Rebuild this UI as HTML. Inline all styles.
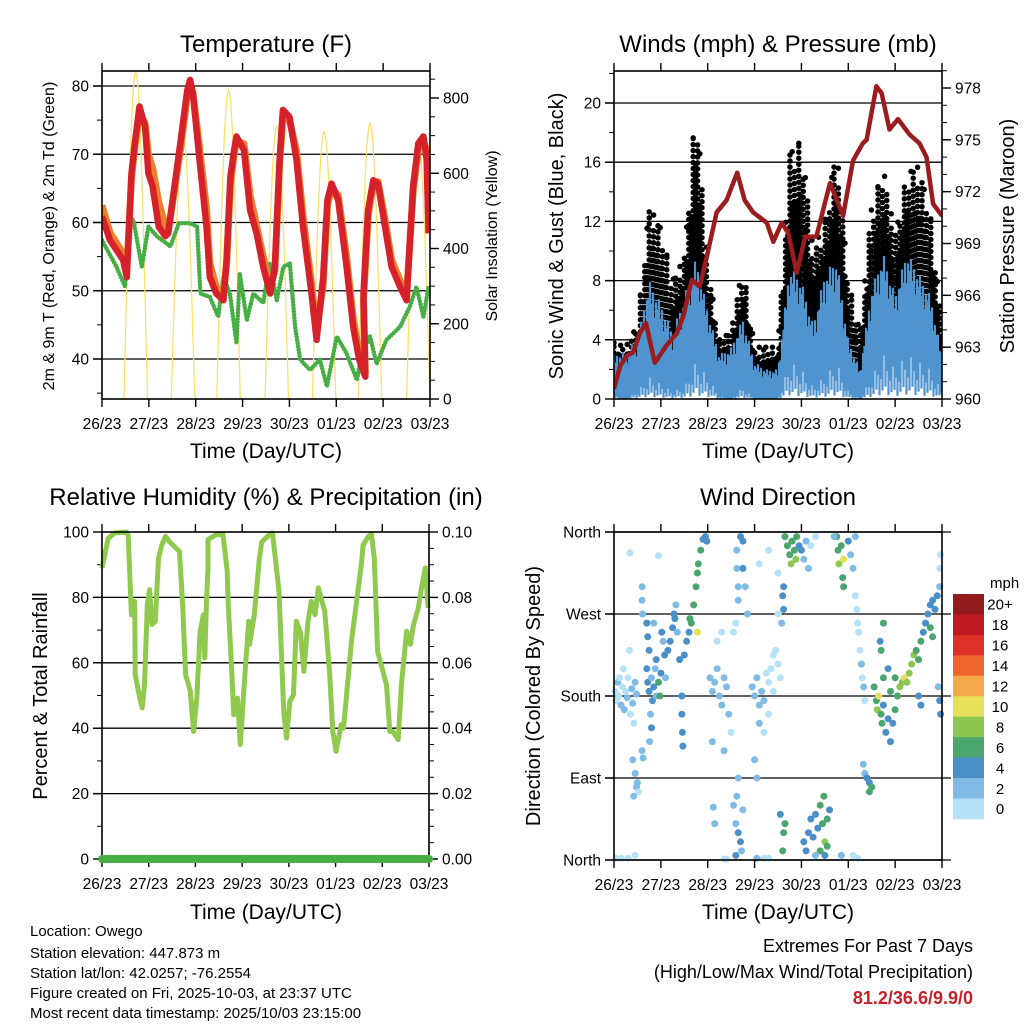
<!DOCTYPE html>
<html><head><meta charset="utf-8"><title>Owego Station Meteogram</title>
<style>
html,body{margin:0;padding:0;background:#fff;}
svg{display:block;font-family:"Liberation Sans",Arial,sans-serif;}
</style></head>
<body>
<svg id="chart" xmlns="http://www.w3.org/2000/svg" width="1024" height="1024" viewBox="0 0 1024 1024">
<rect x="0" y="0" width="1024" height="1024" fill="#fff"/>
<g id="layer"></g>
<text x="266" y="52" font-size="24" text-anchor="middle">Temperature (F)</text>
<text x="778" y="52" font-size="24" text-anchor="middle">Winds (mph) &amp; Pressure (mb)</text>
<text x="266" y="505" font-size="24" text-anchor="middle">Relative Humidity (%) &amp; Precipitation (in)</text>
<text x="778" y="505" font-size="24" text-anchor="middle">Wind Direction</text>
<text x="266" y="458" font-size="21" text-anchor="middle">Time (Day/UTC)</text>
<text x="778" y="458" font-size="21" text-anchor="middle">Time (Day/UTC)</text>
<text x="266" y="919" font-size="21" text-anchor="middle">Time (Day/UTC)</text>
<text x="778" y="919" font-size="21" text-anchor="middle">Time (Day/UTC)</text>
<text transform="translate(54,236) rotate(-90)" font-size="16" text-anchor="middle">2m &amp; 9m T (Red, Orange) &amp; 2m Td (Green)</text>
<text transform="translate(497,236) rotate(-90)" font-size="16" text-anchor="middle">Solar Insolation (Yellow)</text>
<text transform="translate(563,236) rotate(-90)" font-size="20" text-anchor="middle">Sonic Wind &amp; Gust (Blue, Black)</text>
<text transform="translate(1014,236) rotate(-90)" font-size="20" text-anchor="middle">Station Pressure (Maroon)</text>
<text transform="translate(47,696) rotate(-90)" font-size="20" text-anchor="middle">Percent &amp; Total Rainfall</text>
<text transform="translate(540,696) rotate(-90)" font-size="20" text-anchor="middle">Direction (Colored By Speed)</text>
<text x="990" y="588" font-size="15">mph</text>
<g font-size="15">
<text x="30" y="936">Location: Owego</text>
<text x="30" y="958">Station elevation: 447.873 m</text>
<text x="30" y="978">Station lat/lon: 42.0257; -76.2554</text>
<text x="30" y="998">Figure created on Fri, 2025-10-03, at 23:37 UTC</text>
<text x="30" y="1018">Most recent data timestamp: 2025/10/03 23:15:00</text>
</g>
<g font-size="18" text-anchor="end">
<text x="973" y="952">Extremes For Past 7 Days</text>
<text x="973" y="978">(High/Low/Max Wind/Total Precipitation)</text>
<text x="973" y="1004" fill="#c8202a" font-weight="bold">81.2/36.6/9.9/0</text>
</g>
</svg>
<script>
const dayLabels = ["26/23","27/23","28/23","29/23","30/23","01/23","02/23","03/23"];

// ---------- temperature panel data ----------
const tempTimes = [0,0.17,0.45,0.53,0.63,0.7,0.8,0.92,0.99,1.08,1.21,1.35,1.41,1.67,1.82,1.88,1.94,2.08,2.23,2.3,2.44,2.59,2.66,2.74,2.82,2.87,3.03,3.16,3.3,3.44,3.59,3.69,3.79,3.86,4.0,4.15,4.29,4.47,4.58,4.72,4.81,4.9,5.04,5.22,5.36,5.49,5.62,5.58,5.68,5.79,5.89,6.04,6.18,6.36,6.5,6.64,6.75,6.86,6.93,6.97];
const tempRed = [60.9,57.4,54.5,52,67.2,71.6,77,74,67.2,65.3,59.4,58,58.4,71.6,79.4,80.9,78.9,69.2,59.4,52,49.6,48.6,54.5,66.7,70.6,72.6,70.6,61.8,58.4,53.5,49.6,53.5,69.2,76.5,75.5,69.2,59.4,49.6,42.8,52,63.3,65.7,63.3,53.5,44.7,39.9,37.4,49.6,61.8,66.2,65.7,59.4,53.5,50.6,48.6,65.3,71.6,72.6,69.2,58.4];
const tempOrange = [62.5,58.5,55.5,53,66.5,71,76,74.5,70,68,63,59.5,58.5,70.5,78.5,80.2,79,71,62,54,50.5,49.5,54,65.5,70,72,71.5,64,59.5,55,50.5,53,68.5,75.5,75,70.5,61,51,44,51,62.5,65,64,55,46,41,38,48.5,61,65.5,66,60.5,54.5,51.5,49.5,64.5,70.5,72,70.5,60.5];
const dewTimes = [0,0.31,0.49,0.6,0.67,0.85,0.99,1.17,1.46,1.64,1.88,2.03,2.1,2.3,2.48,2.59,2.73,2.87,2.94,3.09,3.23,3.44,3.58,3.73,3.87,4.01,4.12,4.23,4.44,4.65,4.8,5.01,5.22,5.44,5.54,5.72,5.86,6.07,6.36,6.57,6.71,6.86,6.97];
const dewGreen = [57.4,53.5,50.6,60.4,60.4,53.5,59.4,58,56.5,59.9,59.9,59.4,49.6,49.1,46.2,52,49.6,42.3,52.5,45.7,49.6,48.2,54,48.6,53.5,54,44.7,39.9,38.4,39.9,36,43.3,40.8,36.9,40.8,43.3,39.3,42.8,44.7,47.7,50.6,46.2,50.6];
const solarPeakDays = [0.72,1.73,2.7,3.73,4.74,5.72,6.75];
const solarPeakValues = [868,697,821,724,710,733,680];

// ---------- wind panel data ----------
const windTimes = [0,0.25,0.5,0.75,1,1.25,1.5,1.75,2,2.25,2.5,2.75,3,3.25,3.5,3.75,4,4.25,4.5,4.75,5,5.25,5.5,5.75,6,6.25,6.5,6.75,7];
const windHigh = [3.0,3.2,4.0,8.0,6.5,4.5,7.0,9.5,6.0,3.0,3.5,5.5,2.5,2.0,2.0,9.0,8.0,5.0,8.5,9.5,4.0,2.0,7.5,9.8,7.0,10.0,8.5,7.0,3.0];
const windLow = [0.3,0,0.5,1.5,1.0,0.5,0.8,2.5,1.5,0.2,0,0.8,0,0,0,2.5,2.0,0.8,1.5,2.5,0.5,0,1.5,3.0,2.0,3.0,2.5,2.0,0.5];
const gustHigh = [3.8,3.5,5.0,13.0,11.5,8.0,9.5,20.2,9.0,4.0,4.5,9.0,3.5,3.5,3.5,16.5,17.5,10.0,12.0,17.0,8.0,4.5,13.0,15.5,11.0,15.2,15.7,12.5,5.0];
const gustLow = [1.5,1,2,5,3.5,2,3.5,7,3,1,1,3,0.5,0.5,0.5,5,5,3,4.5,6,2,0.5,4,6.5,4.5,7,6,4.5,1.5];
const pressTimes = [0,0.13,0.27,0.41,0.55,0.68,0.87,1.12,1.34,1.48,1.66,1.83,1.97,2.19,2.4,2.63,2.79,2.97,3.26,3.4,3.58,3.72,3.9,4.08,4.32,4.61,4.89,5.1,5.31,5.39,5.6,5.71,5.88,6.06,6.31,6.52,6.67,6.81,7.0];
const pressValues = [960.6,961.9,962.5,962.7,963.8,964.4,962.1,963.1,963.8,964.8,966.9,966.5,968.1,970.8,971.5,973.1,971.5,970.8,970.2,969.1,970.2,969.6,967.3,969.4,969.4,972.5,970.6,973.8,974.8,975,978.1,977.7,975.6,976.2,975.3,974.8,974,971.3,970.6];

// ---------- humidity panel data ----------
const rhTimes = [0,0.06,0.13,0.27,0.52,0.56,0.63,0.7,0.71,0.81,0.86,0.91,0.97,1.02,1.07,1.14,1.21,1.28,1.36,1.45,1.66,1.73,1.79,1.89,1.96,2.03,2.1,2.17,2.2,2.24,2.27,2.27,2.45,2.59,2.68,2.7,2.78,2.82,2.9,2.96,3.06,3.14,3.16,3.26,3.37,3.42,3.59,3.65,3.79,3.89,3.95,4.02,4.1,4.16,4.25,4.32,4.41,4.48,4.56,4.63,4.77,4.87,4.94,5.01,5.12,5.17,5.34,5.55,5.59,5.7,5.77,5.83,5.9,6.09,6.16,6.23,6.34,6.41,6.52,6.6,6.67,6.77,6.84,6.92,6.98];
const rhValues = [89,93,98,99.7,100,99,74.7,78.8,56.4,49.2,46.2,53.3,77.8,82.4,71.7,72.7,92,96,98.7,97,94,76.8,56.4,51.3,39,49.2,69.6,74.7,61.5,79.8,89,97.7,99.2,99.2,88,78.8,56.4,44.1,49.2,35,56.4,72.7,65.7,74.7,92,97,99.2,99.7,81.9,45.2,37,48.2,50.2,72.7,69.2,57.4,72.7,78.8,74.7,82.9,75.7,57.4,39,32.9,41.1,40,66.6,90,96,98.7,99.2,92,63.5,53.3,39,39,36.5,53.3,69.6,65.7,71.7,76.8,82.9,89,76.8,59.4,51.3,39,38.5,68.6];
const precipTimes = [0,7];
const precipValues = [0,0];

// ---------- wind direction panel data ----------
const dirTimes = [0.02,0.05,0.08,0.1,0.12,0.15,0.18,0.2,0.22,0.25,0.28,0.3,0.33,0.35,0.38,0.4,0.42,0.45,0.48,0.05,0.15,0.3,0.45,0.34,0.95,
0.4,0.45,0.48,0.5,0.52,0.42,0.6,0.62,0.6,0.6,0.61,
0.7,0.72,0.75,0.7,0.72,0.75,0.8,0.82,0.85,0.9,0.9,0.95,0.98,1.0,1.02,1.05,1.08,1.1,0.78,0.8,0.76,0.85,0.88,
1.45,1.45,1.46,1.47,
1.15,1.2,1.25,1.28,1.3,1.32,1.35,1.4,1.5,1.55,1.6,1.62,1.65,1.7,1.75,1.78,1.8,1.85,1.9,1.95,1.98,1.78,
2.05,2.1,2.15,2.2,2.25,2.3,2.35,2.4,2.45,2.5,2.2,2.3,2.35,2.1,
2.62,2.62,2.65,2.65,2.7,2.75,2.75,2.8,2.85,2.6,2.55,
2.6,2.62,2.65,2.7,2.72,2.75,2.6,2.65,2.55,2.12,2.15,2.35,2.4,
2.95,3.0,3.05,3.1,3.15,3.2,3.25,3.3,3.35,3.4,3.45,3.5,3.55,3.1,3.2,3.3,3.4,3.0,3.05,3.1,3.3,3.5,3.5,
3.05,3.2,3.3,3.55,3.62,3.6,3.65,
3.6,3.62,3.62,3.58,
3.65,3.7,3.75,3.78,3.8,3.85,3.88,3.9,3.95,4.0,4.05,4.1,4.15,4.2,4.3,
4.05,4.1,4.15,4.2,4.25,4.3,4.35,4.4,4.45,4.5,4.5,4.55,4.6,4.4,4.3,4.55,4.48,
4.75,4.78,4.8,4.85,4.88,4.9,4.9,5.0,5.05,5.1,5.15,4.7,4.85,5.1,5.2,
5.15,5.18,5.2,5.22,5.25,5.28,5.3,5.33,5.35,
5.32,5.35,5.4,5.45,5.5,5.45,
5.55,5.6,5.62,5.65,5.7,5.72,5.75,5.8,5.85,5.9,5.95,6.0,6.05,6.1,5.75,5.7,5.68,5.75,5.85,6.15,6.2,6.25,5.9,6.0,
6.3,6.35,6.4,6.45,6.5,6.55,6.6,6.65,6.7,6.75,6.8,6.85,6.9,6.95,6.95,6.97,6.5,6.55,6.95,6.97,6.92,6.8,6.75];
const dirDegrees = [185,175,195,180,200,170,190,210,165,185,178,200,230,160,188,172,150,195,182,2,2,2,5,337,334,
110,95,80,85,75,70,120,112,300,285,270,
260,245,230,210,195,185,200,175,190,180,220,195,180,205,250,240,225,200,160,145,130,260,210,
180,160,140,125,
230,240,255,270,265,280,250,220,225,240,250,265,260,280,300,315,325,340,352,355,350,250,
200,185,195,210,180,170,200,190,160,140,240,250,120,130,
340,320,300,285,355,350,320,300,270,260,250,
40,70,30,20,10,55,5,90,60,58,40,1,1,
190,180,200,170,185,175,205,195,210,225,230,215,200,150,140,160,185,110,90,325,340,315,270,
2,2,2,50,30,10,40,
290,300,275,260,
355,345,335,325,350,340,330,355,345,340,330,350,320,345,355,
20,10,30,45,25,50,35,60,40,20,5,45,55,10,5,15,70,
355,340,325,345,310,300,330,350,335,320,355,355,5,5,2,
290,275,260,250,230,215,200,190,175,
105,95,90,85,80,75,
190,175,165,180,160,150,170,140,155,130,150,165,180,190,200,230,240,260,210,195,200,195,185,200,
205,215,225,230,220,240,250,260,270,280,285,275,290,300,320,335,180,170,175,160,190,245,255];
const dirSpeeds = [1,1,2,1,1,2,1,1,2,1,2,1,1,1,2,2,1,3,3,1,1,1,1,1,1,
2,2,3,3,1,2,3,3,3,3,2,
4,5,4,4,5,4,3,4,4,3,4,6,6,4,4,3,4,3,3,4,3,2,2,
4,4,4,4,
4,4,4,5,4,3,2,4,4,4,5,6,6,7,7,7,6,6,5,4,4,10,
2,3,3,3,2,3,3,2,2,1,1,1,2,2,
2,3,3,2,4,4,4,3,3,1,1,
3,2,4,4,3,3,4,2,2,3,3,1,1,
2,2,2,2,3,2,1,1,1,1,1,1,1,2,1,1,1,2,2,1,1,1,1,
3,1,1,4,6,6,7,
4,4,4,2,
6,7,7,8,7,6,8,7,4,4,3,2,2,1,1,
4,4,4,4,4,4,5,6,7,8,4,7,4,6,3,7,6,
6,7,8,7,6,6,10,4,3,3,2,2,2,1,1,
1,1,1,1,1,2,1,2,1,
2,3,4,5,6,7,
6,7,8,10,7,6,4,4,4,4,4,6,7,8,6,6,5,7,4,8,10,8,6,6,
8,8,8,7,6,6,4,5,4,4,4,5,4,3,1,1,4,4,4,4,3,6,7];
const speedBinLabels = ["0","2","4","6","8","10","12","14","16","18","20+"];
const speedBinColors = ["#b5e2f8","#7fbbe4","#4a8fc8","#4aa56f","#8cc751","#e7e05a","#f6a94a","#ee662e","#de3228","#bf1a21","#931a1b"];

// ---------- helpers ----------
const NS = "http://www.w3.org/2000/svg";
const layer = document.getElementById("layer");
function mk(tag, attrs, parent) {
  const e = document.createElementNS(NS, tag);
  for (const k in attrs) e.setAttribute(k, attrs[k]);
  (parent || layer).appendChild(e);
  return e;
}
function linScale(d0, d1, r0, r1) { return v => r0 + (v - d0) * (r1 - r0) / (d1 - d0); }
function interp(xs, ys, t) {
  if (t <= xs[0]) return ys[0];
  for (let i = 1; i < xs.length; i++) if (t <= xs[i]) {
    const f = (t - xs[i-1]) / (xs[i] - xs[i-1]);
    return ys[i-1] + f * (ys[i] - ys[i-1]);
  }
  return ys[ys.length-1];
}
function lineD(xs, ys, sx, sy) {
  let d = "";
  for (let i = 0; i < xs.length; i++) d += (i ? "L" : "M") + sx(xs[i]).toFixed(1) + "," + sy(ys[i]).toFixed(1);
  return d;
}

function frame(P, name) {
  const g = mk("g", {});
  
  
  const r = mk("rect", {x:P.x0, y:P.y0, width:P.x1-P.x0, height:P.y1-P.y0, fill:"none", stroke:"#000", "stroke-width":1.6}, g);
  
  
  const sx = linScale(0, 7, P.x0, P.x1);
  for (let i = 0; i < dayLabels.length; i++) {
    const x = sx(i);
    const t1 = mk("line", {x1:x, x2:x, y1:P.y1, y2:P.y1+8, stroke:"#000", "stroke-width":1.4}, g);
    
    
    const t2 = mk("line", {x1:x, x2:x, y1:P.y0, y2:P.y0-8, stroke:"#000", "stroke-width":1.4}, g);
    
    
    const lb = mk("text", {x:x, y:P.y1+30, "font-size":15.5, "text-anchor":"middle"}, g);
    lb.textContent = dayLabels[i];
    
    
  }
  return sx;
}
function yAxis(P, sy, side, ticks, minorStep, fmt, gridVals, gridExt, name) {
  const g = mk("g", {});
  
  
  const xb = side === "left" ? P.x0 : P.x1;
  const dir = side === "left" ? -1 : 1;
  const lo = ticks[0], hi = ticks[ticks.length-1];
  for (let v = lo - minorStep * 10; v <= hi + minorStep * 10 + 1e-9; v += minorStep) {
    const y = sy(v);
    if (y < P.y0 - 0.5 || y > P.y1 + 0.5) continue;
    const m = mk("line", {x1:xb, x2:xb + dir*5, y1:y, y2:y, stroke:"#000", "stroke-width":1}, g);
    
    
  }
  for (const v of ticks) {
    const y = sy(v);
    const t = mk("line", {x1:xb, x2:xb + dir*9, y1:y, y2:y, stroke:"#000", "stroke-width":1.4}, g);
    
    
    const lb = mk("text", {x: xb + dir*13, y: y + 5.5, "font-size":15.5, "text-anchor": side === "left" ? "end" : "start"}, g);
    lb.textContent = fmt(v);
    
    
  }
  if (gridVals) for (const v of gridVals) {
    const y = sy(v);
    const gl = mk("line", {x1:P.x0-9, x2:P.x1 + gridExt, y1:y, y2:y, stroke:"#000", "stroke-width":1.3}, g);
    
    
  }
}

// ---------- Panel 1: temperature ----------
(function(){
  const P = {x0:102, x1:430, y0:71, y1:399};
  const sx = linScale(0, 7, P.x0, P.x1);
  const sT = linScale(40, 80, 359, 86);
  const sS = linScale(0, 800, 399, 98);
  yAxis(P, sT, "left", [40,50,60,70,80], 5, v => String(v), [40,50,60,70,80], 0, "temp-left-axis");
  yAxis(P, sS, "right", [0,200,400,600,800], 50, v => String(v), null, 0, "solar-right-axis");
  const clip = mk("clipPath", {id:"c1"});
  mk("rect", {x:P.x0, y:P.y0, width:P.x1-P.x0, height:P.y1-P.y0}, clip);
  const g = mk("g", {"clip-path":"url(#c1)"});
  
  
  let d = "M" + P.x0 + "," + P.y1;
  for (let i = 0; i < solarPeakDays.length; i++) {
    const c = solarPeakDays[i], a = solarPeakValues[i];
    d += "L" + sx(c - 0.25).toFixed(1) + "," + sS(0).toFixed(1);
    for (let k = 0; k <= 24; k++) {
      const t = c - 0.25 + k * 0.5 / 24;
      d += "L" + sx(t).toFixed(1) + "," + sS(a * Math.sin(Math.PI * k / 24)).toFixed(1);
    }
  }
  d += "L" + P.x1 + "," + P.y1;
  const solar = mk("path", {d:d, fill:"none", stroke:"#fbe06a", "stroke-width":1.3}, g);
  
  
  const dew = mk("path", {d:lineD(dewTimes, dewGreen, sx, sT), fill:"none", stroke:"#47ae45", "stroke-width":4.5, "stroke-linecap":"round", "stroke-linejoin":"round", "stroke-dasharray":"0 3.2"}, g);
  
  
  const or = mk("path", {d:lineD(tempTimes, tempOrange, sx, sT), fill:"none", stroke:"#f07f2b", "stroke-width":7, "stroke-linejoin":"round"}, g);
  
  
  const rd = mk("path", {d:lineD(tempTimes, tempRed, sx, sT), fill:"none", stroke:"#d5222a", "stroke-width":6.5, "stroke-linejoin":"round"}, g);
  
  
  frame(P, "temp");
})();

// ---------- Panel 2: winds ----------
(function(){
  const P = {x0:614, x1:942, y0:71, y1:399};
  const sx = linScale(0, 7, P.x0, P.x1);
  const sW = linScale(0, 20, 399, 103);
  const sP = linScale(960, 978, 399, 88);
  yAxis(P, sW, "left", [0,4,8,12,16,20], 2, v => String(v), [4,8,12,16,20], 0, "wind-left-axis");
  yAxis(P, sP, "right", [960,963,966,969,972,975,978], 1, v => String(v), null, 0, "pressure-right-axis");
  const clip = mk("clipPath", {id:"c2"});
  mk("rect", {x:P.x0, y:P.y0, width:P.x1-P.x0, height:P.y1-P.y0+2}, clip);
  const g = mk("g", {"clip-path":"url(#c2)"});
  
  
  let gd = "";
  let col = 0;
  for (let px = P.x0; px <= P.x1; px += 2.2, col++) {
    const t = (px - P.x0) / (P.x1 - P.x0) * 7;
    const hi = interp(windTimes, gustHigh, t), lo = interp(windTimes, gustLow, t);
    const yTop = sW(hi), yBot = sW(lo);
    const off = (col * 3.7) % 6;
    for (let y = yBot - off; y >= yTop; y -= 6) {
      const frac = (yBot - y) / Math.max(1, yBot - yTop);
      if (frac > 0.7 && (col % 2) !== 0) continue;
      if (frac > 0.88 && (col % 4) !== 0) continue;
      gd += "M" + px.toFixed(1) + "," + y.toFixed(1) + "h0";
    }
    if (col % 3 === 0) gd += "M" + px.toFixed(1) + "," + yTop.toFixed(1) + "h0";
  }
  const gp = mk("path", {d:gd, stroke:"#000", "stroke-width":5.5, "stroke-linecap":"round", fill:"none"}, g);
  
  
  let wd = "";
  col = 0;
  for (let px = P.x0; px <= P.x1; px += 1.5, col++) {
    const t = (px - P.x0) / (P.x1 - P.x0) * 7;
    const hi = interp(windTimes, windHigh, t), lo = interp(windTimes, windLow, t);
    const jitter = [1, 0.8, 0.95, 0.7, 0.9, 0.85][col % 6];
    const lo2 = lo * [1, 0.3, 0.7, 0.1, 0.5, 0.2][col % 6];
    wd += "M" + px.toFixed(1) + "," + sW(lo2).toFixed(1) + "V" + sW(lo + (hi - lo) * jitter).toFixed(1);
  }
  const wp = mk("path", {d:wd, stroke:"#4f93cf", "stroke-width":2.2, fill:"none"}, g);
  
  
  const pl = mk("path", {d:lineD(pressTimes, pressValues, sx, sP), fill:"none", stroke:"#9b1c1f", "stroke-width":4.5, "stroke-linejoin":"round"}, g);
  
  
  frame(P, "wind");
})();

// ---------- Panel 3: humidity ----------
(function(){
  const P = {x0:102, x1:429, y0:532, y1:859};
  const sx = linScale(0, 7, P.x0, P.x1);
  const sR = linScale(0, 100, 859, 532);
  const sQ = linScale(0, 0.1, 859, 532);
  yAxis(P, sR, "left", [0,20,40,60,80,100], 10, v => String(v), [20,40,60,80], 0, "rh-left-axis");
  yAxis(P, sQ, "right", [0,0.02,0.04,0.06,0.08,0.1], 0.005, v => v.toFixed(2), null, 0, "precip-right-axis");
  const rl = mk("path", {d:lineD(rhTimes, rhValues, sx, sR), fill:"none", stroke:"#8fca4f", "stroke-width":5, "stroke-linejoin":"round"});
  
  
  frame(P, "rh");
  const pr = mk("path", {d:lineD(precipTimes, precipValues, sx, sQ), fill:"none", stroke:"#47ae45", "stroke-width":8, "stroke-linecap":"round"});
  
  
})();

// ---------- Panel 4: wind direction ----------
(function(){
  const P = {x0:614, x1:942, y0:532, y1:860};
  const sx = linScale(0, 7, P.x0, P.x1);
  const sD = linScale(0, 360, 860, 532);
  const names = {0:"North",90:"East",180:"South",270:"West",360:"North"};
  yAxis(P, sD, "left", [0,90,180,270,360], 1000, v => names[v], [0,90,180,270,360], 9, "direction-left-axis");
  const g = mk("g", {});
  
  
  for (let i = 0; i < dirTimes.length; i++) {
    const bin = Math.min(10, Math.floor(dirSpeeds[i] / 2));
    const c = mk("circle", {cx:sx(dirTimes[i]).toFixed(1), cy:sD(dirDegrees[i]).toFixed(1), r:3.5, fill:speedBinColors[bin]}, g);
    
    
  }
  frame(P, "direction");
  const cb = mk("g", {});
  
  
  const top = 594, h = 20.45;
  for (let k = 0; k < speedBinColors.length; k++) {
    const idx = speedBinColors.length - 1 - k;
    const r = mk("rect", {x:953, y:(top + k*h).toFixed(2), width:31, height:(h+0.3).toFixed(2), fill:speedBinColors[idx]}, cb);
    
    
    const t = mk("text", {x:1000, y:(top + k*h + h/2 + 5.5).toFixed(1), "font-size":15, "text-anchor":"middle"}, cb);
    t.textContent = speedBinLabels[idx];
    
    
  }
})();
</script>
</body></html>
